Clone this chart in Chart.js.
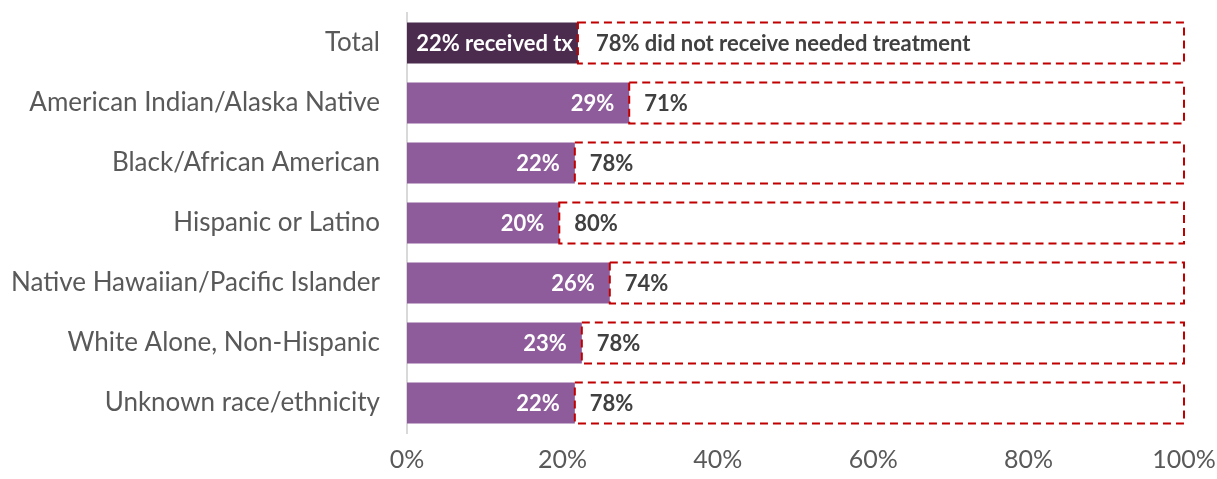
<!DOCTYPE html>
<html>
<head>
<meta charset="utf-8">
<script src="https://cdn.jsdelivr.net/npm/chart.js@4"></script>
<style>
  html, body { margin: 0; padding: 0; background: #fff; }
  #wrap { width: 1217px; height: 479px; }
</style>
</head>
<body>
<div id="wrap"><canvas id="txChart"></canvas></div>
<script>
const groups = [
  'Total',
  'American Indian/Alaska Native',
  'Black/African American',
  'Hispanic or Latino',
  'Native Hawaiian/Pacific Islander',
  'White Alone, Non-Hispanic',
  'Unknown race/ethnicity'
];
// share that received treatment / did not (percent)
const received = [22, 28.6, 21.6, 19.6, 26.1, 22.5, 21.6];
const notReceived = [78, 71.4, 78.4, 80.4, 73.9, 77.5, 78.4];
const xTicks = [0, 20, 40, 60, 80, 100];
const totalReceivedNote = ' received tx';
const totalNotReceivedNote = ' did not receive needed treatment';

const FONT = 'Lato, Carlito, Calibri, sans-serif';

// text on the bars
const barLabels = {
  id: 'barLabels',
  afterDatasetsDraw(chart) {
    const c = chart.ctx;
    c.save();
    c.font = 'bold 22px ' + FONT;
    c.textBaseline = 'middle';

    // dashed outline around the "did not receive" segment
    chart.getDatasetMeta(1).data.forEach(el => {
      c.save();
      c.strokeStyle = '#C00000';
      c.lineWidth = 2;
      c.setLineDash([8, 5]);
      c.strokeRect(el.base, el.y - el.height / 2, el.x - el.base, el.height);
      c.restore();
    });

    chart.getDatasetMeta(0).data.forEach((el, i) => {
      let txt = Math.round(received[i]) + '%';
      if (i === 0) txt += totalReceivedNote;
      c.fillStyle = '#ffffff';
      c.textAlign = 'right';
      c.fillText(txt, el.x - (i === 0 ? 5 : 15), el.y + 1);
    });
    chart.getDatasetMeta(1).data.forEach((el, i) => {
      let txt = Math.round(notReceived[i]) + '%';
      if (i === 0) txt += totalNotReceivedNote;
      c.fillStyle = '#404040';
      c.textAlign = 'left';
      c.fillText(txt, el.base + (i === 0 ? 18 : 15), el.y + 1);
    });
    c.restore();
  }
};

new Chart(document.getElementById('txChart'), {
  type: 'bar',
  data: {
    labels: groups,
    datasets: [{
      label: 'Received treatment',
      data: received,
      backgroundColor: received.map((v, i) => i === 0 ? '#4B2C4E' : '#8E5C9B'),
      borderWidth: 0,
      barPercentage: 0.68,
      categoryPercentage: 1
    }, {
      label: 'Did not receive needed treatment',
      data: notReceived,
      backgroundColor: '#ffffff',
      borderWidth: 0,
      barPercentage: 0.68,
      categoryPercentage: 1
    }]
  },
  options: {
    indexAxis: 'y',
    responsive: true,
    maintainAspectRatio: false,
    animation: false,
    layout: { padding: { top: 13, right: 33, bottom: 0, left: 0 } },
    plugins: {
      legend: { display: false },
      tooltip: { enabled: false }
    },
    scales: {
      x: {
        stacked: true,
        min: 0,
        max: 100,
        afterBuildTicks: s => { s.ticks = xTicks.map(v => ({ value: v })); },
        afterFit: s => {
          s.height = 46;
          s.paddingLeft = 0; s.paddingRight = 0;
        },
        grid: { display: false, drawTicks: false },
        border: { display: false },
        ticks: {
          padding: 12,
          color: '#595959',
          font: { family: FONT, size: 25 },
          callback: v => v + '%'
        }
      },
      y: {
        stacked: true,
        afterFit: s => {
          s.width = 407;
          s.paddingTop = 0; s.paddingBottom = 0;
        },
        grid: { display: false, drawTicks: false },
        border: { display: true, color: '#d9d9d9', width: 2 },
        ticks: {
          padding: 27,
          color: '#595959',
          font: { family: FONT, size: 26 }
        }
      }
    }
  },
  plugins: [barLabels]
});
</script>
</body>
</html>
